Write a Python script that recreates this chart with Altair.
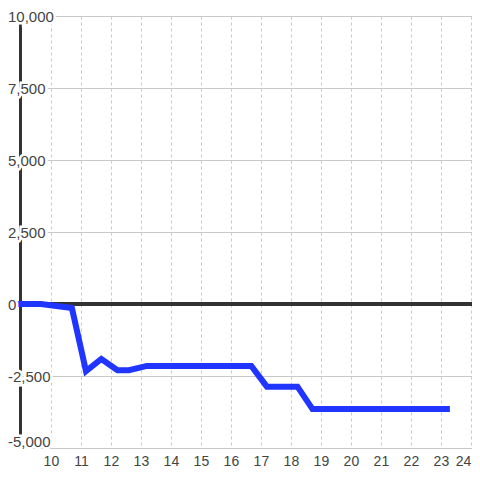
import altair as alt
import pandas as pd

# series
x_vals = [8.87, 9.67, 10.7, 11.17, 11.68, 12.22, 12.6, 13.2, 16.68, 17.2, 18.22, 18.72, 23.3]
y_vals = [0, 0, -140, -2330, -1910, -2300, -2300, -2150, -2150, -2870, -2870, -3650, -3650]

# axis ticks / labels
x_ticks = [10, 11, 12, 13, 14, 15, 16, 17, 18, 19, 20, 21, 22, 23, 24]
y_grid = [-5000, -3750, -2500, -1250, 0, 1250, 2500, 3750, 5000, 6250, 7500, 8750, 10000]
y_label_vals = [-5000, -2500, 0, 2500, 5000, 7500, 10000]
y_label_text = ["-5,000", "-2,500", "0", "2,500", "5,000", "7,500", "10,000"]

line_df = pd.DataFrame({"x": x_vals, "y": y_vals})
lab_df = pd.DataFrame({"y": y_label_vals, "label": y_label_text})

FONT = "Liberation Sans"

X = alt.X(
    "x:Q",
    scale=alt.Scale(domain=[8.97, 24.037], nice=False, zero=False),
    axis=alt.Axis(
        values=x_ticks, grid=True, gridDash=[3, 3], gridColor="#c8c8c8", gridWidth=1,
        ticks=False, domain=False, labelFont=FONT, labelFontSize=14,
        labelColor="#444", labelPadding=6, labelFlush=False, title=None,
        labelAlign={"condition": {"test": "datum.value == 24", "value": "right"}, "value": "center"},
    ),
)
Y = alt.Y(
    "y:Q",
    scale=alt.Scale(domain=[-5000, 10000], nice=False, zero=False),
    axis=alt.Axis(
        values=y_grid, grid=True, gridColor="#c8c8c8", gridWidth=1.2,
        ticks=False, labels=False, domain=True, domainColor="#333",
        domainWidth=3, title=None,
    ),
)

zero_rule = alt.Chart(line_df).mark_rule(color="#333", strokeWidth=3).encode(
    y=alt.datum(0)
)

line = alt.Chart(line_df).mark_line(
    color="#2035ff", strokeWidth=6, strokeJoin="miter", strokeCap="butt"
).encode(x=X, y=Y)


def label_layer(cond, dy, halo):
    props = dict(align="left", baseline="middle", font=FONT, fontSize=15, dy=dy)
    if halo:
        mk = alt.Chart(lab_df).transform_filter(cond).mark_text(
            color="white", stroke="white", strokeWidth=5, **props
        )
    else:
        mk = alt.Chart(lab_df).transform_filter(cond).mark_text(color="#444", **props)
    return mk.encode(y=Y, x=alt.value(-12), text="label:N")


chart = alt.layer(
    zero_rule,
    line,
    label_layer("datum.y > -5000", 1, True),
    label_layer("datum.y <= -5000", -6, True),
    label_layer("datum.y > -5000", 1, False),
    label_layer("datum.y <= -5000", -6, False),
).properties(
    width=452,
    height=432,
    autosize="none",
    padding={"left": 12, "top": 8, "right": 0, "bottom": 24},
    background="white",
).configure_view(stroke=None)

chart.save("out.html", embed_options={"renderer": "svg", "actions": False})
